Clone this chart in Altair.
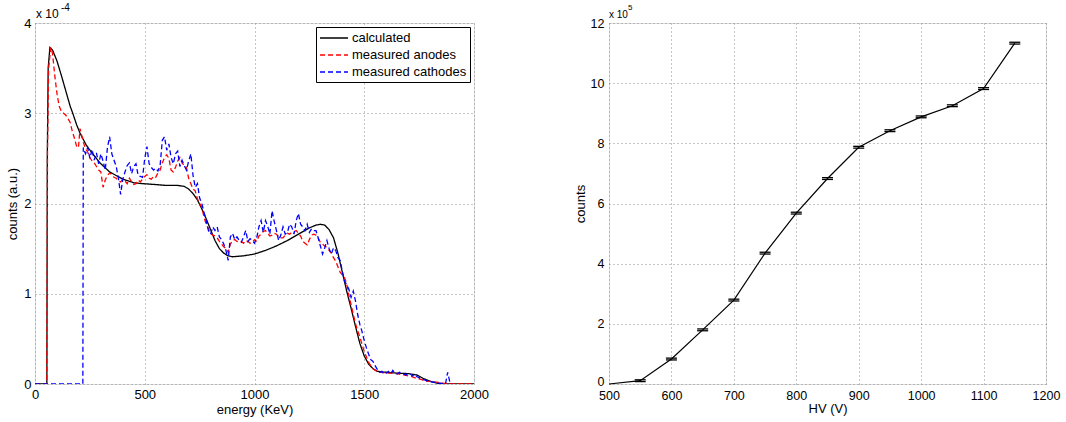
import altair as alt
import pandas as pd

FONT = "Liberation Sans"

# ---------------- left panel data (counts in units of 1e-4) ----------------
series_names = ["calculated", "measured anodes", "measured cathodes"]

calc_E = [0, 54, 56, 60, 68, 80, 100, 120, 140, 160, 172, 190, 205, 235, 260, 296,
          340, 400, 450, 490, 550, 600, 650, 680, 700, 720, 740, 760, 780, 800,
          820, 840, 860, 880, 900, 950, 1000, 1050, 1100, 1150, 1200, 1250, 1280,
          1300, 1320, 1340, 1360, 1380, 1400, 1420, 1440, 1460, 1480, 1500, 1520,
          1540, 1560, 1600, 1650, 1700, 1740, 1770, 1800, 1830, 1860, 2000]
calc_V = [0, 0, 2.5, 3.5, 3.73, 3.70, 3.58, 3.42, 3.25, 3.08, 3.00, 2.87, 2.78, 2.64,
          2.56, 2.45, 2.35, 2.27, 2.23, 2.22, 2.21, 2.20, 2.20, 2.19, 2.16, 2.11,
          2.04, 1.94, 1.83, 1.71, 1.59, 1.50, 1.45, 1.42, 1.41, 1.42, 1.44, 1.48,
          1.53, 1.59, 1.66, 1.73, 1.76, 1.77, 1.76, 1.71, 1.62, 1.45, 1.24, 1.03,
          0.84, 0.64, 0.45, 0.31, 0.22, 0.17, 0.14, 0.13, 0.12, 0.115, 0.10, 0.06,
          0.03, 0.01, 0.0, 0.0]

anode_E = [0, 54, 57, 62, 72, 80, 90, 100, 110, 120, 130, 140, 150, 160, 170, 180,
           190, 198, 205, 212, 220, 230, 240, 250, 260, 270, 280, 290, 300, 310,
           320, 330, 340, 350, 360, 370, 380, 390, 400, 410, 420, 430, 440, 450,
           460, 470, 480, 490, 500, 510, 520, 530, 540, 550, 560, 570, 580, 590,
           600, 610, 620, 630, 640, 650, 660, 670, 680, 690, 700, 710, 720, 730,
           740, 750, 760, 770, 780, 790, 800, 810, 820, 830, 840, 850, 860, 870,
           880, 890, 900, 910, 920, 930, 940, 950, 960, 970, 980, 990, 1000, 1010,
           1020, 1030, 1040, 1050, 1060, 1070, 1080, 1090, 1100, 1110, 1120, 1130,
           1140, 1150, 1160, 1170, 1180, 1190, 1200, 1210, 1220, 1230, 1240, 1250,
           1260, 1270, 1280, 1290, 1300, 1310, 1320, 1330, 1340, 1350, 1360, 1370,
           1380, 1390, 1400, 1410, 1420, 1430, 1440, 1450, 1460, 1470, 1480, 1490,
           1500, 1510, 1520, 1530, 1540, 1550, 1560, 1570, 1580, 1600, 1620, 1640,
           1660, 1680, 1700, 1720, 1740, 1760, 1780, 1800, 1830, 1860, 1900, 2000]
anode_V = [0, 0, 2.6, 3.5, 3.73, 3.66, 3.42, 3.22, 3.08, 3.02, 3.00, 2.98, 2.94,
           2.90, 2.80, 2.72, 2.63, 2.62, 2.83, 2.76, 2.68, 2.61, 2.57, 2.51, 2.47,
           2.45, 2.41, 2.37, 2.35, 2.18, 2.26, 2.31, 2.34, 2.32, 2.29, 2.28, 2.25,
           2.24, 2.27, 2.25, 2.22, 2.28, 2.24, 2.21, 2.22, 2.26, 2.24, 2.27, 2.30,
           2.32, 2.28, 2.27, 2.30, 2.29, 2.34, 2.37, 2.45, 2.51, 2.54, 2.50, 2.37,
           2.35, 2.40, 2.47, 2.51, 2.45, 2.42, 2.40, 2.28, 2.22, 2.16, 2.14, 2.05,
           2.00, 1.96, 1.85, 1.77, 1.72, 1.67, 1.65, 1.64, 1.62, 1.58, 1.55, 1.52,
           1.50, 1.46, 1.55, 1.59, 1.60, 1.58, 1.57, 1.58, 1.56, 1.59, 1.58, 1.56,
           1.57, 1.60, 1.58, 1.64, 1.66, 1.69, 1.70, 1.67, 1.64, 1.65, 1.67, 1.66,
           1.63, 1.62, 1.62, 1.65, 1.67, 1.66, 1.68, 1.69, 1.70, 1.67, 1.64, 1.58,
           1.56, 1.54, 1.60, 1.65, 1.66, 1.65, 1.62, 1.57, 1.55, 1.53, 1.51, 1.48,
           1.45, 1.40, 1.36, 1.30, 1.24, 1.21, 1.18, 1.11, 0.98, 0.88, 0.77, 0.67,
           0.59, 0.52, 0.44, 0.36, 0.30, 0.24, 0.20, 0.17, 0.15, 0.14, 0.13, 0.13,
           0.12, 0.12, 0.12, 0.11, 0.10, 0.09, 0.08, 0.06, 0.05, 0.03, 0.03, 0.02,
           0.01, 0.0, 0.0]

cath_E = [0, 218] + list(range(220, 1910, 10))
cath_V = [0, 0,
          2.62, 2.55, 2.62, 2.50, 2.60, 2.48, 2.56, 2.44, 2.55, 2.47,
          2.37, 2.62, 2.74, 2.55, 2.48, 2.41, 2.28, 2.10, 2.27, 2.35,
          2.42, 2.45, 2.33, 2.41, 2.44, 2.31, 2.30, 2.29, 2.50, 2.63,
          2.44, 2.40, 2.37, 2.39, 2.36, 2.42, 2.70, 2.74, 2.59, 2.66,
          2.51, 2.44, 2.55, 2.58, 2.41, 2.48, 2.42, 2.37, 2.47, 2.55,
          2.31, 2.18, 2.22, 2.06, 2.00, 1.90, 1.81, 1.70, 1.66, 1.74,
          1.70, 1.74, 1.63, 1.60, 1.55, 1.48, 1.37, 1.63, 1.67, 1.60,
          1.63, 1.59, 1.57, 1.63, 1.70, 1.58, 1.61, 1.59, 1.56, 1.62,
          1.74, 1.81, 1.68, 1.81, 1.75, 1.66, 1.92, 1.80, 1.70, 1.59,
          1.65, 1.74, 1.66, 1.68, 1.77, 1.74, 1.66, 1.81, 1.89, 1.77,
          1.74, 1.70, 1.77, 1.68, 1.72, 1.70, 1.70, 1.62, 1.53, 1.44,
          1.51, 1.59, 1.50, 1.44, 1.51, 1.48, 1.40, 1.37, 1.25, 1.14,
          1.10, 1.05, 0.96, 1.03, 0.92, 0.77, 0.66, 0.58, 0.48, 0.40,
          0.33, 0.27, 0.25, 0.20, 0.16, 0.13, 0.14, 0.11, 0.12, 0.14,
          0.11, 0.15, 0.12, 0.11, 0.13, 0.12, 0.11, 0.10, 0.12, 0.11,
          0.09, 0.11, 0.08, 0.07, 0.05, 0.05, 0.04, 0.03, 0.03, 0.02,
          0.02, 0.01, 0.01, 0.01, 0.00, 0.00, 0.13, 0.02, 0.00]

left_xticks = [0, 500, 1000, 1500, 2000]
left_yticks = [0, 1, 2, 3, 4]

# ---------------- right panel data (counts in units of 1e5) ----------------
hv = [500, 550, 600, 650, 700, 750, 800, 850, 900, 950, 1000, 1050, 1100, 1150]
counts = [0.0, 0.11, 0.83, 1.80, 2.79, 4.35, 5.68, 6.83, 7.87, 8.42, 8.88, 9.25, 9.82, 11.33]
err_hv = [550, 600, 650, 700, 750, 800, 850, 900, 950, 1000, 1050, 1100, 1150]
err_c = [0.11, 0.83, 1.80, 2.79, 4.35, 5.68, 6.83, 7.87, 8.42, 8.88, 9.25, 9.82, 11.33]
err_e = [0.03] * len(err_c)

right_xticks = [500, 600, 700, 800, 900, 1000, 1100, 1200]
right_yticks = [0, 2, 4, 6, 8, 10, 12]

# ---------------- build tables ----------------
df_left = pd.concat([
    pd.DataFrame({"E": calc_E, "v": calc_V, "series": series_names[0]}),
    pd.DataFrame({"E": anode_E, "v": anode_V, "series": series_names[1]}),
    pd.DataFrame({"E": cath_E, "v": cath_V, "series": series_names[2]}),
], ignore_index=True)

df_right = pd.DataFrame({"hv": hv, "c": counts})
df_err = pd.DataFrame({"hv": err_hv, "c": err_c, "e": err_e})

grid_kw = dict(grid=True, gridColor="#8c8c8c", gridDash=[1, 3], gridWidth=1,
               domain=False, ticks=False, labelFont=FONT, titleFont=FONT, format="d",
               labelFlush=False, labelColor="black", titleColor="black",
               titleFontWeight="normal")

# ---------------- left chart ----------------
legend_kw = dict(title=None, orient="top-right", offset=4, padding=3,
                 strokeColor="black", fillColor="white", labelFont=FONT,
                 labelFontSize=13, labelColor="black", symbolType="M-1,0H3",
                 symbolSize=196, symbolStrokeWidth=1.3, rowPadding=2, labelOffset=17,
                 cornerRadius=0)

left_lines = alt.Chart(df_left).mark_line(strokeWidth=1.3, clip=True).encode(
    x=alt.X("E:Q", scale=alt.Scale(domain=[0, 2000], nice=False),
            axis=alt.Axis(values=left_xticks, title="energy (KeV)", labelFontSize=13,
                          titleFontSize=13, labelPadding=4, titlePadding=2, **grid_kw)),
    y=alt.Y("v:Q", scale=alt.Scale(domain=[0, 4], nice=False),
            axis=alt.Axis(values=left_yticks, title="counts (a.u.)", labelFontSize=13,
                          titleFontSize=13, labelPadding=4, titlePadding=4, **grid_kw)),
    color=alt.Color("series:N", sort=series_names,
                    scale=alt.Scale(domain=series_names, range=["black", "red", "blue"]),
                    legend=alt.Legend(**legend_kw)),
    strokeDash=alt.StrokeDash("series:N", sort=series_names,
                              scale=alt.Scale(domain=series_names, range=[[1, 0], [5, 3], [5, 3]]),
                              legend=alt.Legend(**legend_kw)),
)

left_mult = alt.Chart(pd.DataFrame({"t": ["x 10"]})).mark_text(
    align="left", baseline="alphabetic", font=FONT, fontSize=12, color="black"
).encode(x=alt.value(1), y=alt.value(-5), text="t:N")
left_exp = alt.Chart(pd.DataFrame({"t": ["-4"]})).mark_text(
    align="left", baseline="alphabetic", font=FONT, fontSize=10, color="black"
).encode(x=alt.value(26), y=alt.value(-12), text="t:N")

left = alt.layer(left_lines, left_mult, left_exp).properties(width=439, height=361)

# ---------------- right chart ----------------
rx = alt.X("hv:Q", scale=alt.Scale(domain=[500, 1200], nice=False),
           axis=alt.Axis(values=right_xticks, title="HV (V)", labelFontSize=12.5,
                         titleFontSize=13, labelPadding=5, titlePadding=1, **grid_kw))
ry_axis = alt.Axis(values=right_yticks, title="counts", labelFontSize=12.5,
                   titleFontSize=13, labelPadding=5, titlePadding=3,
                   labelOffset=alt.condition("datum.value === 0", alt.value(-3), alt.value(0)),
                   **grid_kw)
rscale = alt.Scale(domain=[0, 12], nice=False)

right_line = alt.Chart(df_right).mark_line(color="black", strokeWidth=1.2).encode(
    x=rx, y=alt.Y("c:Q", scale=rscale, axis=ry_axis))
caps_lo = alt.Chart(df_err).transform_calculate(lo="datum.c - datum.e").mark_tick(
    orient="horizontal", size=11, thickness=1.3, color="black", opacity=1).encode(
    x=alt.X("hv:Q"), y=alt.Y("lo:Q", title="counts"))
caps_hi = alt.Chart(df_err).transform_calculate(hi="datum.c + datum.e").mark_tick(
    orient="horizontal", size=11, thickness=1.3, color="black", opacity=1).encode(
    x=alt.X("hv:Q"), y=alt.Y("hi:Q", title="counts"))

right_mult = alt.Chart(pd.DataFrame({"t": ["x 10"]})).mark_text(
    align="left", baseline="alphabetic", font=FONT, fontSize=10, color="black"
).encode(x=alt.value(0), y=alt.value(-5), text="t:N")
right_exp = alt.Chart(pd.DataFrame({"t": ["5"]})).mark_text(
    align="left", baseline="alphabetic", font=FONT, fontSize=8, color="black"
).encode(x=alt.value(19), y=alt.value(-13), text="t:N")

right = alt.layer(right_line, caps_lo, caps_hi, right_mult, right_exp).properties(
    width=437, height=361)

chart = alt.hconcat(left, right, spacing=135, bounds="flush").resolve_legend(
    color="independent", strokeDash="independent"
).resolve_scale(
    color="independent", strokeDash="independent"
).properties(
    padding={"left": 6, "top": 2, "right": 5, "bottom": 5}
).configure_view(
    stroke="black", strokeWidth=1
).configure(background="white")

chart.save("out.html", embed_options={"renderer": "svg", "actions": False})
